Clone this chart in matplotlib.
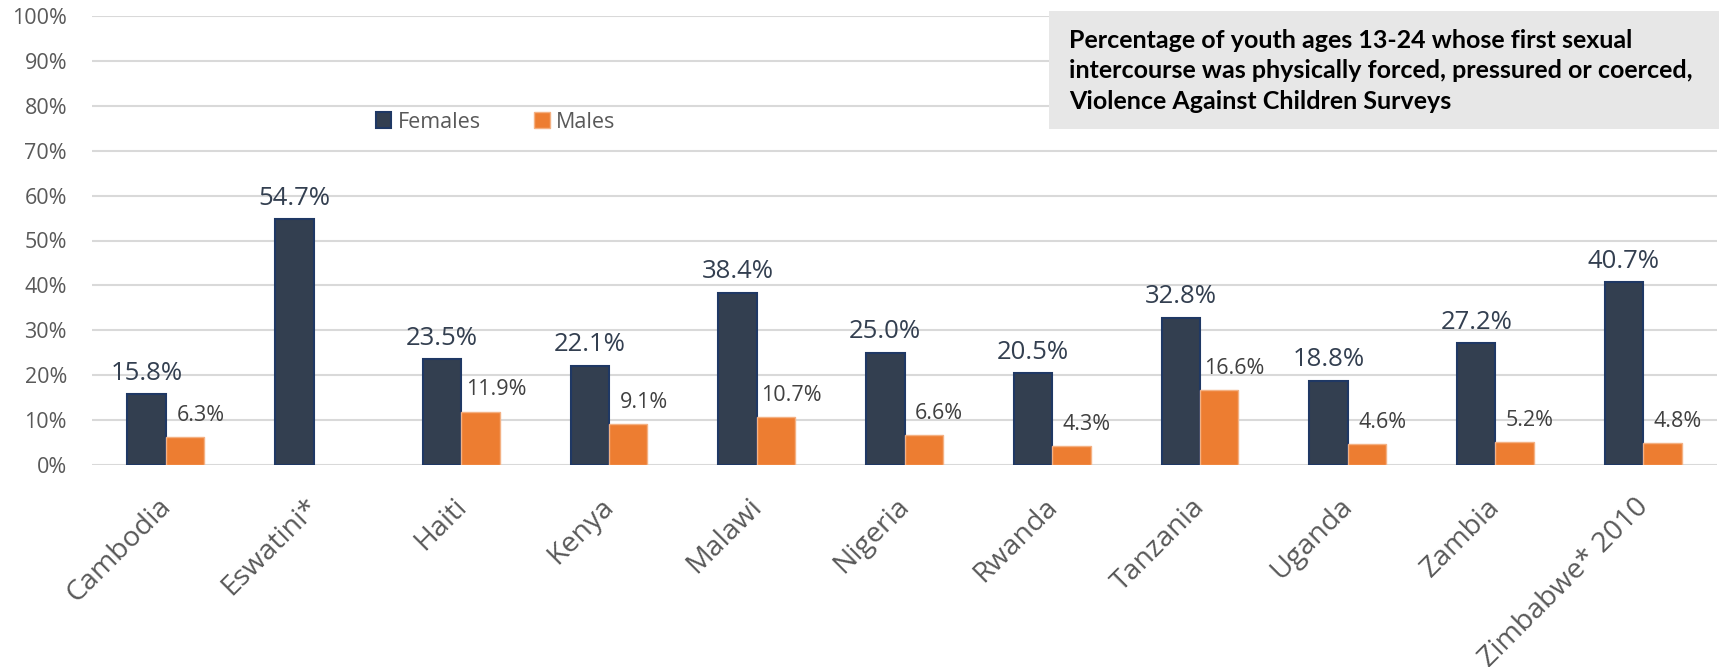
import matplotlib
matplotlib.use("Agg")
import matplotlib.pyplot as plt
import numpy as np
from matplotlib.patches import Rectangle, Patch
from matplotlib.ticker import FuncFormatter
from matplotlib.transforms import ScaledTranslation

countries = ["Cambodia", "Eswatini*", "Haiti", "Kenya", "Malawi", "Nigeria",
             "Rwanda", "Tanzania", "Uganda", "Zambia", "Zimbabwe* 2010"]
females = [15.8, 54.7, 23.5, 22.1, 38.4, 25.0, 20.5, 32.8, 18.8, 27.2, 40.7]
males = [6.3, np.nan, 11.9, 9.1, 10.7, 6.6, 4.3, 16.6, 4.6, 5.2, 4.8]
yticks = [0, 10, 20, 30, 40, 50, 60, 70, 80, 90, 100]
title_lines = ["Percentage of youth ages 13-24 whose first sexual",
               "intercourse was physically forced, pressured or coerced,",
               "Violence Against Children Surveys"]

plt.rcParams['font.family'] = ['Open Sans', 'DejaVu Sans']

W, H = 1719, 667
fig = plt.figure(figsize=(W / 100, H / 100), dpi=100)
ax = fig.add_axes([92 / W, 1 - 465 / H, (1717 - 92) / W, (465 - 16) / H])

x = np.arange(len(countries))
bw = 0.26
fcol = "#333F50"
mcol = "#ED7D31"

ax.bar(x - bw / 2, females, bw, color=fcol, edgecolor="#1F3864", linewidth=1.5, zorder=3, label="Females")
ax.bar(x + bw / 2, males, bw, color=mcol, edgecolor="#F4B183", linewidth=1.0, zorder=3, label="Males")

for xi, v in zip(x, females):
    ax.annotate(f"{v:.1f}%", (xi - bw / 2, v), xytext=(0, 6), textcoords="offset points",
                ha="center", va="bottom", fontsize=18.5, color="#333F50")
for xi, v in zip(x, males):
    if np.isnan(v):
        continue
    ax.annotate(f"{v:.1f}%", (xi + bw / 2, v), xytext=(11, 8), textcoords="offset points",
                ha="center", va="bottom", fontsize=15.5, color="#404040")

ax.set_xlim(-0.5, len(countries) - 0.5)
ax.set_ylim(0, 100)
ax.set_yticks(yticks)
ax.yaxis.set_major_formatter(FuncFormatter(lambda v, p: f"{v:.0f}%"))
ax.grid(axis="y", color="#D9D9D9", linewidth=1.5, zorder=0)
ax.set_axisbelow(True)
for s in ax.spines.values():
    s.set_visible(False)
ax.tick_params(axis="y", length=0, pad=18, labelsize=15.5, labelcolor="#595959")
ax.tick_params(axis="x", length=0, pad=20, labelsize=20.5, labelcolor="#595959")
ax.set_xticks(x)
ax.set_xticklabels(countries, rotation=45, ha="right", va="top", rotation_mode="anchor")
shift = ScaledTranslation(-9 / 100, 0, fig.dpi_scale_trans)
for lbl in ax.get_xticklabels():
    lbl.set_transform(lbl.get_transform() + shift)

handles = [Patch(facecolor=fcol, edgecolor="#1F3864", linewidth=1.5),
           Patch(facecolor=mcol, edgecolor="#F4B183", linewidth=1.0)]
leg = fig.legend(handles, ["Females", "Males"], ncol=2, loc="center left",
                 bbox_to_anchor=(376 / W, 1 - 122 / H), frameon=False,
                 fontsize=15.5, handlelength=0.7, handleheight=0.7,
                 handletextpad=0.3, columnspacing=2.5, borderpad=0, borderaxespad=0)
for t in leg.get_texts():
    t.set_color("#595959")

fig.patches.append(Rectangle((1049 / W, 1 - 129 / H), (W - 1049) / W, 118 / H,
                             transform=fig.transFigure, facecolor="#E7E7E7",
                             edgecolor="none", zorder=5))

# fit title font so the longest line spans ~625 px and lines are ~32.5 px apart
title_family = ["Liberation Sans Narrow", "Lato", "DejaVu Sans"]
renderer = fig.canvas.get_renderer()
probe = fig.text(0, 0, title_lines[1], fontsize=15, fontweight="bold", family=title_family)
wpx = probe.get_window_extent(renderer).width
fs = 15 * 625 / wpx
probe.set_fontsize(fs)
probe.set_text("\n".join(title_lines[:2]))
probe.set_linespacing(1.0)
h2 = probe.get_window_extent(renderer).height
probe.set_text(title_lines[0])
h1 = probe.get_window_extent(renderer).height
pitch = h2 - h1
ls = 32.5 / pitch if pitch > 0 else 1.5
probe.remove()

fig.text(1069 / W, 1 - 71 / H, "\n".join(title_lines), ha="left", va="center",
         fontsize=fs, fontweight="bold", color="#000000", linespacing=ls, zorder=6,
         family=title_family)

fig.savefig("out.png", dpi=100)
